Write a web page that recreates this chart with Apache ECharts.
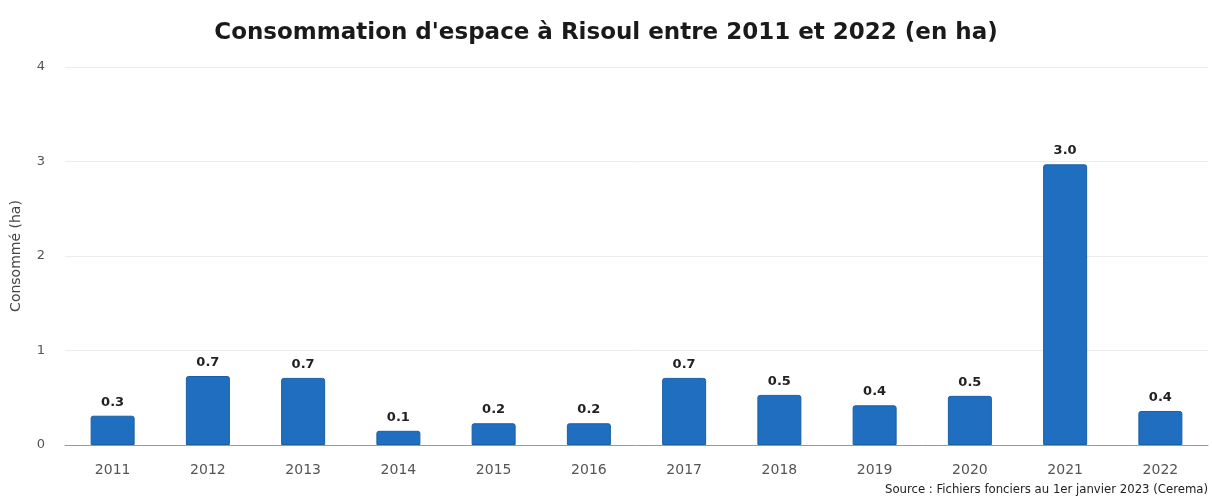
<!DOCTYPE html>
<html>
<head>
    <meta charset="utf-8">
    <title>Consommation d'espace à Risoul</title>
    <script src="https://cdn.jsdelivr.net/npm/echarts@6/dist/echarts.min.js"></script>
    <style>
        html, body { margin: 0; padding: 0; background: #fff; }
        #container { width: 1212px; height: 500px; }
    </style>
</head>
<body>
    <div id="container"></div>
    <script>
        var years = ['2011', '2012', '2013', '2014', '2015', '2016', '2017', '2018', '2019', '2020', '2021', '2022'];
        var conso = [0.31, 0.73, 0.71, 0.15, 0.23, 0.23, 0.71, 0.53, 0.42, 0.52, 2.97, 0.36];
        var yTicks = [0, 1, 2, 3, 4];

        var myChart = echarts.init(document.getElementById('container'));

        var option = {
            backgroundColor: '#fff',
            animation: false,
            title: {
                text: "Consommation d'espace à Risoul entre 2011 et 2022 (en ha)",
                left: 'center',
                top: 17,
                textStyle: {
                    fontFamily: 'DejaVu Sans',
                    fontWeight: 'bold',
                    fontSize: 23,
                    color: '#1a1a1a'
                }
            },
            graphic: [{
                type: 'text',
                right: 4,
                top: 483,
                style: {
                    text: 'Source : Fichiers fonciers au 1er janvier 2023 (Cerema)',
                    font: '13px "DejaVu Sans Condensed", "DejaVu Sans"',
                    fill: '#222'
                }
            }],
            grid: {
                left: 65,
                right: 4,
                top: 67,
                bottom: 55
            },
            xAxis: {
                type: 'category',
                data: years,
                axisTick: { show: false },
                axisLine: { lineStyle: { color: '#999', width: 1 } },
                axisLabel: {
                    margin: 18,
                    fontFamily: 'DejaVu Sans',
                    fontSize: 14,
                    color: '#555'
                }
            },
            yAxis: {
                type: 'value',
                min: 0,
                max: 4,
                interval: 1,
                name: 'Consommé (ha)',
                nameLocation: 'middle',
                nameGap: 42,
                nameTextStyle: {
                    fontFamily: 'DejaVu Sans',
                    fontSize: 14,
                    color: '#444'
                },
                axisLabel: {
                    margin: 20,
                    fontFamily: 'DejaVu Sans',
                    fontSize: 13,
                    color: '#555',
                    formatter: function (v) {
                        return yTicks.indexOf(v) >= 0 ? String(v) : '';
                    }
                },
                splitLine: { lineStyle: { color: '#ececec', width: 1 } }
            },
            series: [{
                type: 'bar',
                data: conso,
                barWidth: 44,
                itemStyle: {
                    color: '#1f6ebf',
                    borderColor: '#1a5fa6',
                    borderWidth: 1,
                    borderRadius: [2, 2, 0, 0]
                },
                label: {
                    show: true,
                    position: 'top',
                    distance: 7,
                    fontFamily: 'DejaVu Sans',
                    fontWeight: 'bold',
                    fontSize: 13,
                    color: '#222',
                    formatter: function (p) {
                        return p.value.toFixed(1);
                    }
                }
            }]
        };

        myChart.setOption(option);
    </script>
</body>
</html>
